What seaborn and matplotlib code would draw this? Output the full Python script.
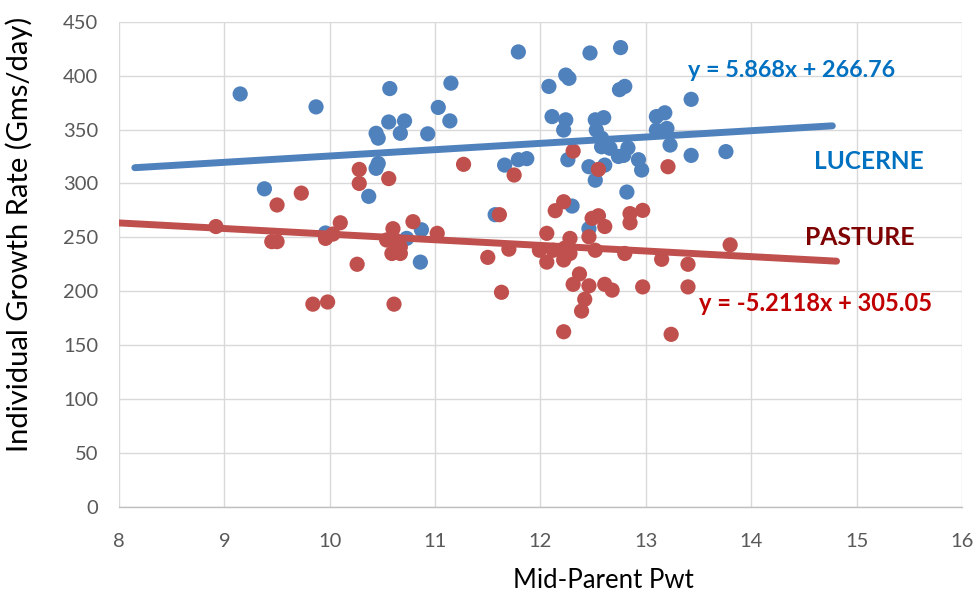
import matplotlib
matplotlib.use("Agg")
import matplotlib.pyplot as plt
import seaborn as sns
import pandas as pd
import numpy as np

# ---- data ----
lucerne_x = [9.15, 9.87, 9.38, 9.96, 10.57, 10.56, 10.71, 10.44, 10.46, 10.67,
             10.93, 11.03, 11.14, 11.15, 10.46, 10.44, 10.37, 10.87, 10.73, 10.86,
             11.57, 11.66, 11.79, 11.87, 11.79, 12.08, 12.24, 12.27, 12.47, 12.76,
             12.75, 12.80, 13.43, 12.11, 12.24, 12.22, 12.52, 12.60, 12.53, 12.58,
             12.58, 12.66, 12.74, 12.83, 12.79, 12.93, 12.96, 12.26, 12.46, 12.61,
             12.52, 13.10, 13.18, 13.10, 13.20, 13.23, 13.43, 13.76, 12.82, 12.30,
             12.46]
lucerne_y = [383, 371, 295, 254, 388, 357, 358, 346.5, 342, 346.5,
             346, 370.5, 358, 393, 318.5, 314, 288, 257, 249, 227,
             271, 317, 322, 323, 422, 390, 400.5, 397.5, 421, 426,
             387, 390, 378, 362, 359, 349.5, 359, 361, 349.5, 342,
             334, 332.6, 325, 333, 326, 322, 312.4, 322, 315.5, 317,
             303, 362, 365.5, 349.5, 351, 335.6, 326, 329.5, 292, 279,
             258]

pasture_x = [8.92, 9.45, 9.50, 9.50, 9.73, 9.84, 9.98, 9.96, 10.03, 10.10,
             10.28, 10.28, 10.56, 10.26, 10.60, 10.79, 11.02, 10.54, 10.62, 10.67,
             10.59, 10.67, 10.61, 11.27, 11.50, 11.61, 11.63, 11.70, 11.75, 11.99,
             12.06, 12.06, 12.12, 12.14, 12.22, 12.23, 12.28, 12.22, 12.28, 12.31,
             12.22, 12.37, 12.31, 12.46, 12.42, 12.39, 12.46, 12.49, 12.55, 12.61,
             12.52, 12.55, 12.61, 12.68, 12.80, 12.85, 12.97, 12.85, 12.97, 13.15,
             13.21, 13.24, 13.40, 13.40, 13.80]
pasture_y = [260, 246, 246, 280, 291, 188, 190, 249, 253, 263.5,
             313, 300, 304.5, 225, 258, 264.5, 253.7, 247.5, 247.5, 241,
             235, 235, 188, 317.7, 231.4, 271, 199, 239, 307.8, 238,
             253.7, 227, 238, 274.7, 283, 240, 235, 229, 249, 330,
             162.4, 216, 206.4, 205, 192.5, 181.6, 250.5, 267.6, 270, 260,
             238, 313, 206.4, 201, 235, 272, 275, 263.5, 204, 229.6,
             315.5, 160, 225, 204, 243]

# trendline coefficients (from chart labels) and extents
lucerne_slope, lucerne_intercept = 5.868, 266.76
pasture_slope, pasture_intercept = -5.2118, 305.05
lucerne_trend_x = [8.15, 14.77]
pasture_trend_x = [8.0, 14.81]

x_ticks = [8, 9, 10, 11, 12, 13, 14, 15, 16]
y_ticks = [0, 50, 100, 150, 200, 250, 300, 350, 400, 450]

# ---- style ----
sns.set_theme(style="white")
plt.rcParams["font.family"] = ["Lato", "DejaVu Sans"]

BLUE = "#4F81BD"
RED = "#C0504D"

df = pd.concat([
    pd.DataFrame({"x": lucerne_x, "y": lucerne_y, "group": "LUCERNE"}),
    pd.DataFrame({"x": pasture_x, "y": pasture_y, "group": "PASTURE"}),
], ignore_index=True)

fig = plt.figure(figsize=(9.77, 5.92), dpi=100)
ax = fig.add_axes([0.1218, 0.1439, 0.8628, 0.8194])

sns.scatterplot(data=df, x="x", y="y", hue="group",
                palette={"LUCERNE": BLUE, "PASTURE": RED},
                s=120, linewidth=0, alpha=1, legend=False, ax=ax, zorder=3)

lx = np.array(lucerne_trend_x)
px = np.array(pasture_trend_x)
sns.lineplot(x=lx, y=lucerne_slope * lx + lucerne_intercept, color=BLUE,
             linewidth=5.0, ax=ax, zorder=4, solid_capstyle="round")
sns.lineplot(x=px, y=pasture_slope * px + pasture_intercept, color=RED,
             linewidth=5.0, ax=ax, zorder=4, solid_capstyle="round")

ax.set_xlim(8, 16)
ax.set_ylim(0, 450)
ax.set_xticks(x_ticks)
ax.set_yticks(y_ticks)
ax.grid(True, color="#D9D9D9", linewidth=1.0)
ax.set_axisbelow(True)
for side in ["top", "right", "left"]:
    ax.spines[side].set_visible(False)
ax.spines["bottom"].set_color("#BFBFBF")
ax.spines["bottom"].set_linewidth(1.0)
ax.tick_params(axis="both", labelsize=14.5, colors="#595959", length=0)
ax.tick_params(axis="y", pad=15)
ax.tick_params(axis="x", pad=19)

ax.set_xlabel("Mid-Parent Pwt", fontsize=18.5, color="#000000")
ax.set_ylabel("Individual Growth Rate (Gms/day)", fontsize=21, color="#000000")
ax.xaxis.set_label_coords(0.575, -0.126)
ax.yaxis.set_label_coords(-0.102, 0.5625)

ax.text(13.40, 398.6, "y = 5.868x + 266.76", color="#0070C0", fontsize=16.8,
        fontweight="bold", va="baseline", ha="left")
ax.text(14.60, 313, "LUCERNE", color="#0070C0", fontsize=17.6,
        fontweight="bold", va="baseline", ha="left")
ax.text(14.51, 243, "PASTURE", color="#7F0000", fontsize=17.8,
        fontweight="bold", va="baseline", ha="left")
ax.text(13.50, 182, "y = -5.2118x + 305.05", color="#C00000", fontsize=17,
        fontweight="bold", va="baseline", ha="left")

fig.savefig("out.png", dpi=100)
